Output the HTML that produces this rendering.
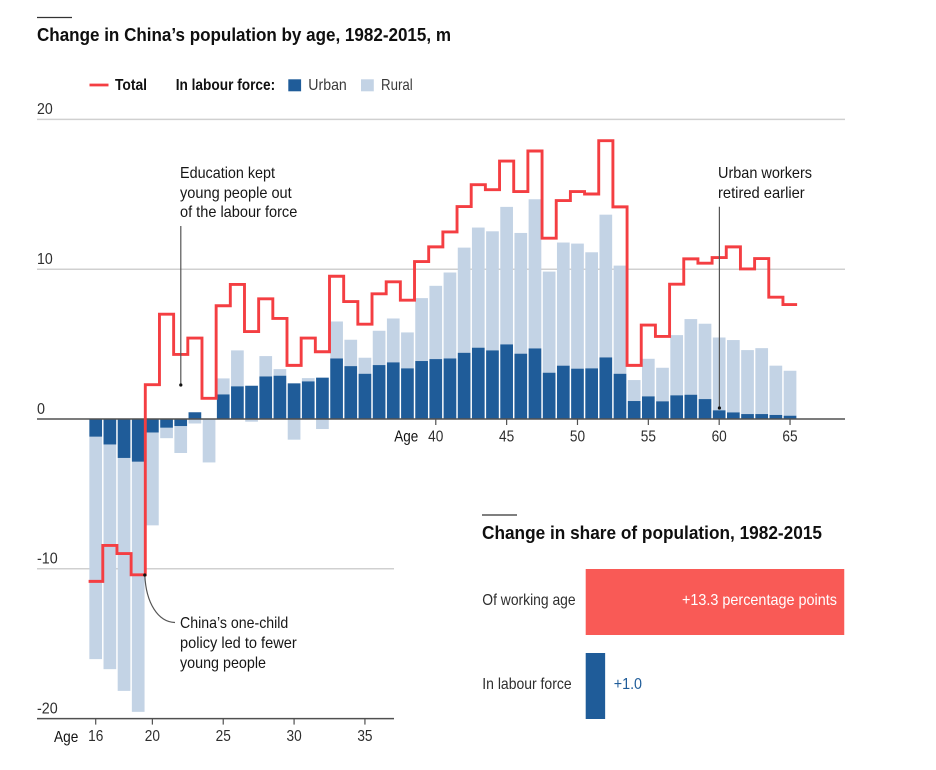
<!DOCTYPE html>
<html lang="en">
<head>
<meta charset="utf-8">
<title>Change in China's population by age, 1982-2015</title>
<style>
  html, body { margin: 0; padding: 0; background: #ffffff; }
  svg { display: block; font-family: "Liberation Sans", sans-serif; }
  .note { font-size: 16px; fill: #161616; }
  .tick { font-size: 16px; fill: #2e2e2e; }
  .title { font-size: 18.5px; font-weight: 700; fill: #0f0f0f; }
</style>
</head>
<body>
<svg id="chart" width="936" height="770" viewBox="0 0 936 770" xmlns="http://www.w3.org/2000/svg">
  <rect x="0" y="0" width="936" height="770" fill="#ffffff"/>

  <line x1="37" x2="72" y1="17.5" y2="17.5" stroke="#333" stroke-width="1.3"/>
  <text class="title" x="37" y="41" textLength="414" lengthAdjust="spacingAndGlyphs">Change in China’s population by age, 1982-2015, m</text>

  <g>
    <line x1="89.5" x2="108.5" y1="85" y2="85" stroke="#f43e42" stroke-width="2.8"/>
    <text x="115" y="90" font-size="16" font-weight="700" fill="#111" textLength="32" lengthAdjust="spacingAndGlyphs">Total</text>
    <text x="175.7" y="90" font-size="16" font-weight="700" fill="#111" textLength="99.5" lengthAdjust="spacingAndGlyphs">In labour force:</text>
    <rect x="288.3" y="79.3" width="12.8" height="12" fill="#1f5c99"/>
    <text x="308.3" y="90" font-size="16" fill="#3a3a3a" textLength="38.5" lengthAdjust="spacingAndGlyphs">Urban</text>
    <rect x="361" y="79.3" width="12.8" height="12" fill="#c3d3e5"/>
    <text x="381" y="90" font-size="16" fill="#3a3a3a" textLength="31.7" lengthAdjust="spacingAndGlyphs">Rural</text>
  </g>

  <g id="grid"></g>
  <g id="bars"></g>
  <g id="axes"></g>
  <path id="total-line" fill="none" stroke="#f43e42" stroke-width="2.9" stroke-linejoin="miter"></path>

  <g>
    <text class="note" x="180" y="178" textLength="95" lengthAdjust="spacingAndGlyphs">Education kept</text>
    <text class="note" x="180" y="198" textLength="111.7" lengthAdjust="spacingAndGlyphs">young people out</text>
    <text class="note" x="180" y="217" textLength="117.3" lengthAdjust="spacingAndGlyphs">of the labour force</text>
    <line x1="180.8" x2="180.8" y1="226" y2="385" stroke="#555" stroke-width="1.2"/>
    <circle cx="180.8" cy="385" r="1.6" fill="#111"/>
  </g>
  <g>
    <text class="note" x="718" y="178" textLength="94" lengthAdjust="spacingAndGlyphs">Urban workers</text>
    <text class="note" x="718" y="198" textLength="86.7" lengthAdjust="spacingAndGlyphs">retired earlier</text>
    <line x1="719.4" x2="719.4" y1="206.7" y2="408" stroke="#555" stroke-width="1.2"/>
    <circle cx="719.4" cy="408" r="1.6" fill="#111"/>
  </g>
  <g>
    <text class="note" x="180" y="628" textLength="108.3" lengthAdjust="spacingAndGlyphs">China’s one-child</text>
    <text class="note" x="180" y="648" textLength="116.7" lengthAdjust="spacingAndGlyphs">policy led to fewer</text>
    <text class="note" x="180" y="668" textLength="86" lengthAdjust="spacingAndGlyphs">young people</text>
    <path d="M144.8 575 C146 603 158 622 175 622.5" fill="none" stroke="#555" stroke-width="1.2"/>
    <circle cx="144.8" cy="575" r="1.6" fill="#111"/>
  </g>

  <line x1="482" x2="517" y1="515" y2="515" stroke="#333" stroke-width="1.3"/>
  <text class="title" x="482" y="539" textLength="340" lengthAdjust="spacingAndGlyphs">Change in share of population, 1982-2015</text>
  <g id="share"></g>
</svg>

<script>
// Main chart data (millions)
const ages = [16,17,18,19,20,21,22,23,24,25,26,27,28,29,30,31,32,33,34,35,36,37,38,39,40,41,42,43,44,45,46,47,48,49,50,51,52,53,54,55,56,57,58,59,60,61,62,63,64,65];
const urban = [-1.18,-1.7,-2.6,-2.85,-0.9,-0.58,-0.47,0.45,0,1.64,2.18,2.22,2.84,2.89,2.38,2.51,2.76,4.04,3.53,3.02,3.6,3.78,3.38,3.87,4.0,4.04,4.42,4.76,4.58,4.98,4.36,4.71,3.09,3.56,3.36,3.38,4.11,3.02,1.2,1.51,1.18,1.58,1.62,1.33,0.58,0.44,0.33,0.33,0.27,0.22];
const rural = [-14.85,-15.0,-15.55,-16.7,-6.2,-0.7,-1.8,-0.3,-2.9,1.07,2.4,-0.18,1.36,0.44,-1.38,0.22,-0.67,2.47,1.76,1.07,2.29,2.93,2.4,4.2,4.89,5.74,7.02,8.02,7.95,9.18,8.06,9.96,6.75,8.22,8.35,7.75,9.53,7.22,1.4,2.51,2.24,4.02,5.05,5.03,4.86,4.83,4.27,4.4,3.29,3.0];
const total = [-10.84,-8.44,-8.98,-10.4,2.29,7.0,4.31,5.4,1.38,7.56,8.98,5.84,8.02,6.71,3.58,5.4,4.49,9.53,7.84,6.33,8.36,9.16,7.93,10.51,11.49,12.49,14.18,15.64,15.31,17.22,15.18,17.89,12.07,14.58,15.18,15.02,18.58,14.16,3.58,6.27,5.51,9.0,10.69,10.4,10.78,11.49,10.02,10.71,8.13,7.64];
const yTicks = [20,10,0,-10,-20];
const lowerAgeTicks = [16,20,25,30,35];
const upperAgeTicks = [40,45,50,55,60,65];

// Share chart data (percentage points)
const shareCategories = ['Of working age','In labour force'];
const shareValues = [13.3,1.0];
const shareLabels = ['+13.3 percentage points','+1.0'];

const NS = 'http://www.w3.org/2000/svg';
function xScale(age) { return 95.7 + (age - 16) * 14.17; }
function yScale(v) { return 419 - v * 14.98; }
function shareScale(v) { return v * 19.44; }
const STEP = 14.17;
const BAR_W = 12.7;

function make(tag, parent, attrs, text) {
  const el = document.createElementNS(NS, tag);
  for (const k in attrs) el.setAttribute(k, attrs[k]);
  if (text !== undefined) el.textContent = text;
  parent.appendChild(el);
  return el;
}

const gridG = document.getElementById('grid');
const barsG = document.getElementById('bars');
const axesG = document.getElementById('axes');
const shareG = document.getElementById('share');

// Gridlines and y tick labels
yTicks.forEach(function (v) {
  const isAxis = v === 0 || v === -20;
  const right = v >= 0 ? 845 : 394;
  const line = make('line', isAxis ? axesG : gridG, {
    x1: 37, x2: right, y1: yScale(v), y2: yScale(v),
    stroke: isAxis ? '#505050' : '#d0d0d0', 'stroke-width': isAxis ? 1.5 : 1.5
  });
  
  
  const label = make('text', axesG, {
    class: 'tick', x: 37, y: yScale(v) - 5.2,
    textLength: v === 0 ? 8 : (v < 0 ? 20.7 : 15.7), lengthAdjust: 'spacingAndGlyphs'
  }, String(v));
  
  
});

// Stacked bars
ages.forEach(function (age, i) {
  const u = urban[i], r = rural[i];
  const sameSign = u * r > 0;
  const rStart = sameSign ? u : 0;
  const rEnd = rStart + r;
  const x = xScale(age) - BAR_W / 2;
  const ruralBar = make('rect', barsG, {
    x: x, width: BAR_W,
    y: Math.min(yScale(rStart), yScale(rEnd)),
    height: Math.abs(yScale(rStart) - yScale(rEnd)),
    fill: '#c3d3e5'
  });
  
  
  const urbanBar = make('rect', barsG, {
    x: x, width: BAR_W,
    y: Math.min(yScale(0), yScale(u)),
    height: Math.abs(yScale(0) - yScale(u)),
    fill: '#1f5c99'
  });
  
  
});

// Total step line
let d = '';
ages.forEach(function (age, i) {
  const left = xScale(age) - STEP / 2;
  const right = xScale(age) + STEP / 2;
  const y = yScale(total[i]);
  d += (i === 0 ? 'M' : 'L') + left + ' ' + y + ' L' + right + ' ' + y + ' ';
});
document.getElementById('total-line').setAttribute('d', d);

// Age ticks
function drawAgeTicks(ticks, axisValue, part) {
  const y0 = yScale(axisValue);
  ticks.forEach(function (age) {
    const tick = make('line', axesG, {
      x1: xScale(age), x2: xScale(age), y1: y0, y2: y0 + 6,
      stroke: '#505050', 'stroke-width': 1.2
    });
    
    
    const label = make('text', axesG, {
      class: 'tick', x: xScale(age) - 7.6, y: y0 + 22.6,
      textLength: 15.2, lengthAdjust: 'spacingAndGlyphs'
    }, String(age));
    
    
  });
}
drawAgeTicks(lowerAgeTicks, -20, 'lower');
drawAgeTicks(upperAgeTicks, 0, 'upper');

const lowerAge = make('text', axesG, { class: 'tick', x: 54, y: 742, textLength: 24.3, lengthAdjust: 'spacingAndGlyphs', style: 'fill:#111' }, 'Age');


const upperAge = make('text', axesG, { class: 'tick', x: 394.3, y: 441.5, textLength: 24, lengthAdjust: 'spacingAndGlyphs', style: 'fill:#111' }, 'Age');



// Share chart
const shareColors = ['#f95a56', '#1f5c99'];
const shareTops = [569, 653];
const shareCatWidths = [93.3, 89.3];
const shareLabelWidths = [155, 28.3];
const shareBase = 585.7;
shareCategories.forEach(function (cat, i) {
  const top = shareTops[i];
  const w = shareScale(shareValues[i]);
  const bar = make('rect', shareG, { x: shareBase, y: top, width: w, height: 66, fill: shareColors[i] });
  
  
  const catText = make('text', shareG, {
    x: 482.3, y: top + 36, 'font-size': 16, fill: '#2e2e2e',
    textLength: shareCatWidths[i], lengthAdjust: 'spacingAndGlyphs'
  }, cat);
  
  
  const inside = w > 100;
  const valText = make('text', shareG, {
    x: inside ? shareBase + w - 7.3 - shareLabelWidths[i] : shareBase + w + 8.6,
    y: top + 36, 'font-size': 16,
    fill: inside ? '#ffffff' : '#1f5c99',
    textLength: shareLabelWidths[i], lengthAdjust: 'spacingAndGlyphs'
  }, shareLabels[i]);
  
  
});
</script>
</body>
</html>
